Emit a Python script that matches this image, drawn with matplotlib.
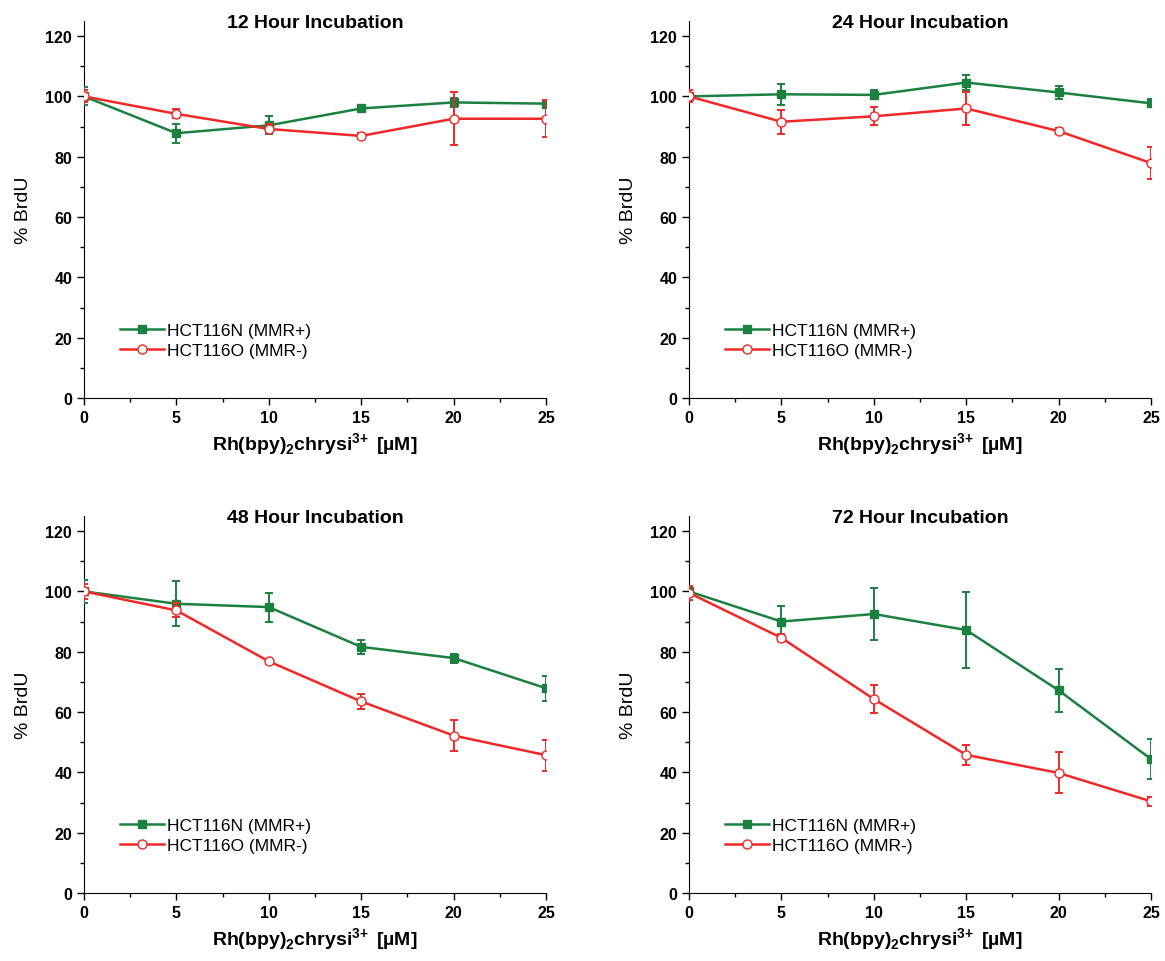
import matplotlib
matplotlib.use('Agg')
import matplotlib.pyplot as plt
from matplotlib.lines import Line2D
from matplotlib.ticker import MultipleLocator

plt.rcParams['font.family'] = ['Liberation Sans', 'DejaVu Sans']
plt.rcParams['mathtext.fontset'] = 'custom'
plt.rcParams['mathtext.rm'] = 'Liberation Sans:bold'
plt.rcParams['mathtext.bf'] = 'Liberation Sans:bold'

conc = [0, 5, 10, 15, 20, 25]
titles = ['12 Hour Incubation', '24 Hour Incubation', '48 Hour Incubation', '72 Hour Incubation']

mmr_pos = [
    [100, 87.8, 90.4, 96.0, 98.0, 97.6],
    [100, 100.7, 100.5, 104.6, 101.3, 97.7],
    [100, 95.9, 94.8, 81.6, 77.9, 67.9],
    [100, 90.0, 92.5, 87.2, 67.2, 44.4],
]
mmr_pos_err = [
    [3.0, 3.2, 3.0, 1.0, 1.5, 1.0],
    [1.0, 3.5, 1.5, 2.5, 2.0, 1.3],
    [3.7, 7.4, 4.8, 2.3, 1.5, 4.2],
    [1.0, 5.1, 8.7, 12.7, 7.2, 6.6],
]
mmr_neg = [
    [100, 94.2, 89.2, 86.9, 92.6, 92.6],
    [100, 91.6, 93.4, 96.0, 88.5, 77.9],
    [100, 93.7, 76.8, 63.5, 52.2, 45.7],
    [99.5, 84.6, 64.3, 45.8, 39.8, 30.4],
]
mmr_neg_err = [
    [2.0, 1.5, 1.5, 1.0, 8.7, 6.2],
    [2.0, 4.0, 3.0, 5.4, 1.0, 5.2],
    [2.5, 2.3, 0.8, 2.5, 5.1, 5.1],
    [2.2, 1.2, 4.7, 3.4, 6.8, 1.5],
]

green = '#1b8040'
red = '#f02828'

W, H = 1165, 962
lefts = [84, 689]
rows = [(22, 399), (517, 894)]

fig = plt.figure(figsize=(W / 100, H / 100), dpi=100)

for i in range(4):
    r, c = divmod(i, 2)
    top, bot = rows[r]
    ax = fig.add_axes([lefts[c] / W, 1 - bot / H, 462 / W, (bot - top) / H])

    ax.errorbar(conc, mmr_pos[i], yerr=mmr_pos_err[i], color=green, lw=1.8,
                marker='s', ms=6, mfc=green, mec=green, capsize=3, elinewidth=1.4,
                capthick=1.4, zorder=3)
    ax.errorbar(conc, mmr_neg[i], yerr=mmr_neg_err[i], color=red, lw=1.8,
                marker='o', ms=6.5, mfc='white', mec=red, capsize=3, elinewidth=1.4,
                capthick=1.4, zorder=4)

    ax.set_xlim(0, 25)
    ax.set_ylim(0, 125)
    ax.xaxis.set_major_locator(MultipleLocator(5))
    ax.xaxis.set_minor_locator(MultipleLocator(2.5))
    ax.yaxis.set_minor_locator(MultipleLocator(10))
    ax.set_yticks(range(0, 121, 20))
    ax.tick_params(which='major', direction='out', length=5, width=1, labelsize=11.5)
    ax.tick_params(which='minor', direction='out', length=3, width=1)
    for lab in ax.get_xticklabels() + ax.get_yticklabels():
        lab.set_fontweight('bold')
    ax.spines['top'].set_visible(False)
    ax.spines['right'].set_visible(False)

    ax.text(0.5, 0.997, titles[i], transform=ax.transAxes, ha='center', va='center',
            fontsize=14, fontweight='bold')
    ax.set_ylabel('% BrdU', fontsize=14, labelpad=10)
    ax.set_xlabel(r'Rh(bpy)$_2$chrysi$^{3\!+}$ [µM]', fontsize=14, fontweight='bold', labelpad=4)

    handles = [
        Line2D([], [], color=green, lw=1.8, marker='s', ms=6, mfc=green, mec=green),
        Line2D([], [], color=red, lw=1.8, marker='o', ms=6.5, mfc='white', mec=red),
    ]
    ax.legend(handles, ['HCT116N (MMR+)', 'HCT116O (MMR-)'], loc='lower left',
              bbox_to_anchor=(0.06, 0.083), frameon=False, fontsize=12.5,
              handlelength=2.5, handletextpad=0.2, labelspacing=0.3, borderpad=0)

fig.savefig('out.png', dpi=100)
